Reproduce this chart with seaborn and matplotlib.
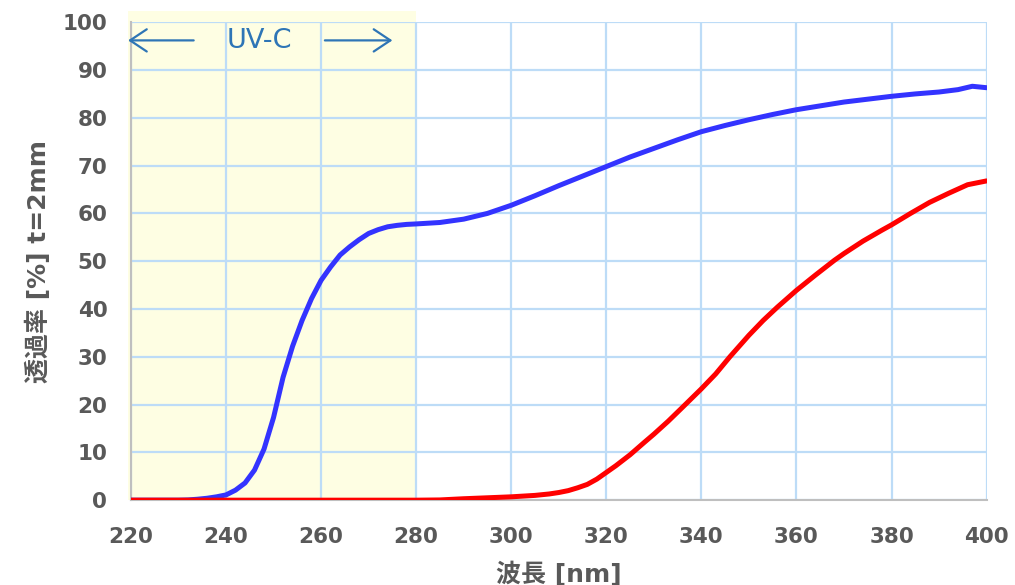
"""
Transmittance spectrum (t = 2 mm), two materials, UV-C band shaded.
"""

import numpy as np
import pandas as pd
import matplotlib
matplotlib.use("Agg")
import matplotlib.pyplot as plt
from matplotlib.patches import Rectangle
import seaborn as sns

# ── data ─────────────────────────────────────────────────────────────────────
blue_nm = [220, 225, 230, 232, 234, 236, 238, 240, 242, 244, 246, 248, 250,
           252, 254, 256, 258, 260, 262, 264, 266, 268, 270, 272, 274, 276,
           278, 280, 285, 290, 295, 300, 305, 310, 315, 320, 325, 330, 335,
           340, 345, 350, 355, 360, 365, 370, 375, 380, 385, 390, 394, 397, 400]
blue_pct = [0, 0, 0, 0.05, 0.2, 0.4, 0.7, 1.1, 2.1, 3.6, 6.3, 10.7, 17.3,
            25.7, 32.2, 37.6, 42.2, 46.0, 48.8, 51.3, 53.0, 54.5, 55.8, 56.6,
            57.2, 57.5, 57.7, 57.8, 58.1, 58.8, 60.0, 61.7, 63.7, 65.8, 67.8,
            69.8, 71.8, 73.6, 75.4, 77.1, 78.4, 79.6, 80.7, 81.7, 82.5, 83.3,
            83.9, 84.5, 85.0, 85.4, 85.9, 86.6, 86.3]

red_nm = [220, 240, 260, 280, 285, 290, 295, 300, 305, 308, 310, 312, 314,
          316, 318, 320, 322, 325, 328, 330, 333, 336, 340, 343, 346, 350,
          353, 356, 360, 364, 368, 370, 374, 378, 380, 384, 388, 392, 396, 400]
red_pct = [0, 0, 0, 0, 0.05, 0.3, 0.5, 0.7, 1.0, 1.3, 1.6, 2.0, 2.6, 3.3,
           4.4, 5.8, 7.2, 9.5, 12.1, 13.8, 16.5, 19.4, 23.3, 26.4, 30.0, 34.5,
           37.6, 40.4, 43.9, 47.1, 50.2, 51.6, 54.2, 56.5, 57.6, 60.0, 62.3,
           64.2, 66.0, 66.8]

UVC_BAND = (220, 280)
X_TICKS = list(range(220, 401, 20))
Y_TICKS = list(range(0, 101, 10))

TXT = "#595959"
GRID = "#BDDCF7"

sns.set_style("white")
plt.rcParams["font.family"] = ["DejaVu Sans", "Noto Sans CJK JP"]

blue_df = pd.DataFrame({"nm": blue_nm, "pct": blue_pct})
red_df = pd.DataFrame({"nm": red_nm, "pct": red_pct})

fig = plt.figure(figsize=(10.15, 5.85), dpi=100)
ax = fig.add_axes([0.129, 0.145, 0.843, 0.817])

# UV-C band (sticks out a little above the plot, like the original)
ax.add_patch(Rectangle((UVC_BAND[0] - 0.6, 0), UVC_BAND[1] - UVC_BAND[0] + 0.6, 102.3,
                       facecolor="#FEFEE3", edgecolor="none", zorder=0.2,
                       clip_on=False))

sns.lineplot(data=blue_df, x="nm", y="pct", ax=ax, color="#3333FF",
             linewidth=3.6, zorder=3)
sns.lineplot(data=red_df, x="nm", y="pct", ax=ax, color="#FF0000",
             linewidth=3.6, zorder=4)

ax.set_xlim(220, 400)
ax.set_ylim(0, 100)
ax.set_xticks(X_TICKS)
ax.set_yticks(Y_TICKS)
ax.set_axisbelow(True)
ax.grid(True, color=GRID, linewidth=1.6, zorder=0.5)

for s in ("top", "right"):
    ax.spines[s].set_visible(False)
for s in ("left", "bottom"):
    ax.spines[s].set_color("#BFBFBF")
    ax.spines[s].set_linewidth(1.5)

ax.tick_params(axis="both", length=0, labelsize=15.5, labelcolor=TXT)
ax.tick_params(axis="x", pad=19.5)
ax.tick_params(axis="y", pad=17)
for lbl in ax.get_xticklabels() + ax.get_yticklabels():
    lbl.set_fontweight("bold")

ax.set_xlabel("波長 [nm]", fontsize=18, fontweight="bold", color=TXT, labelpad=10)
ax.set_ylabel("透過率 [%] t=2mm", fontsize=18, fontweight="bold", color=TXT,
              labelpad=8)

# UV-C annotation
ax.text(247.1, 96.1, "UV-C", fontsize=19.5, color="#2E75B6",
        ha="center", va="center", zorder=5)
arrow = dict(arrowstyle="->,head_length=0.6,head_width=0.4",
             color="#2E75B6", lw=1.6, mutation_scale=20,
             shrinkA=0, shrinkB=0)
ax.annotate("", xy=(219.4, 96.2), xytext=(233.2, 96.2), arrowprops=arrow,
            annotation_clip=False, zorder=5)
ax.annotate("", xy=(275.0, 96.2), xytext=(260.8, 96.2), arrowprops=arrow,
            annotation_clip=False, zorder=5)

fig.savefig("out.png", dpi=100)
